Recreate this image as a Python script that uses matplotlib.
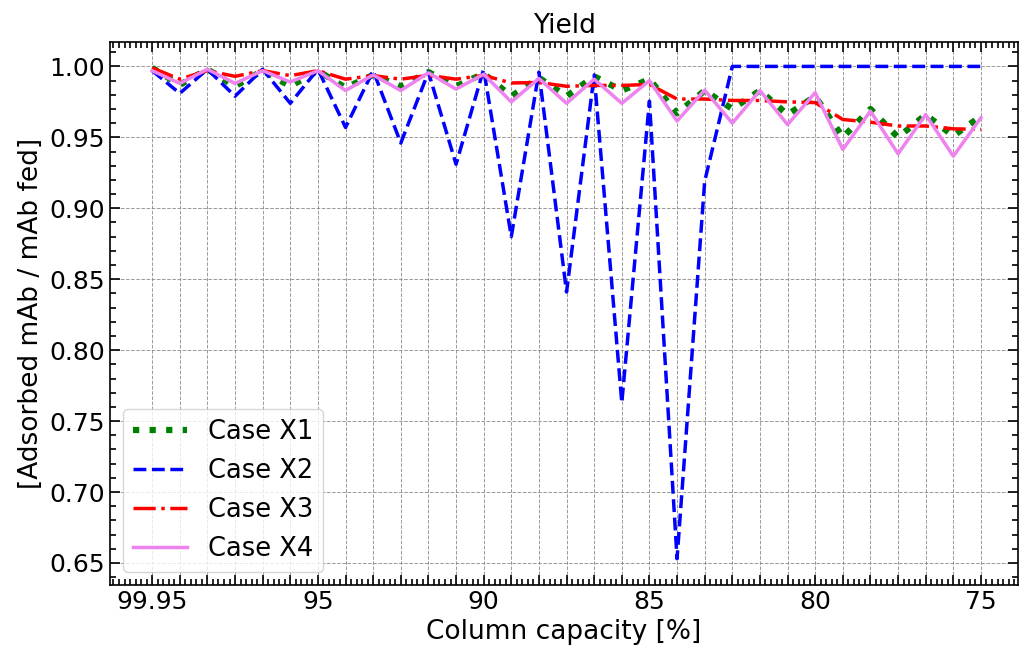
import numpy as np
import matplotlib.pyplot as plt
from matplotlib.ticker import MultipleLocator, AutoMinorLocator

# column capacity tick labels (only every 6th point is labelled)
capacity_labels = ['99.95', '95', '90', '85', '80', '75']
n_points = 31

case_x1 = [0.999, 0.987, 0.998, 0.986, 0.997, 0.986, 0.997, 0.985, 0.994, 0.986,
           0.996, 0.986, 0.995, 0.979, 0.992, 0.979, 0.993, 0.983, 0.991, 0.967,
           0.983, 0.970, 0.983, 0.966, 0.979, 0.950, 0.970, 0.950, 0.966, 0.951,
           0.965]
case_x2 = [0.997, 0.981, 0.998, 0.979, 0.998, 0.974, 0.998, 0.957, 0.997, 0.946,
           0.996, 0.931, 0.998, 0.880, 0.996, 0.841, 0.994, 0.763, 0.9755, 0.653,
           0.919, 1.0, 1.0, 1.0, 1.0, 1.0, 1.0, 1.0, 1.0, 1.0,
           1.0]
case_x3 = [0.999, 0.991, 0.997, 0.993, 0.997, 0.9935, 0.997, 0.991, 0.9935, 0.991,
           0.9937, 0.991, 0.9937, 0.9883, 0.9887, 0.986, 0.9866, 0.9866, 0.9873, 0.977,
           0.977, 0.976, 0.976, 0.975, 0.9745, 0.9626, 0.9607, 0.958, 0.958, 0.956,
           0.9556]
case_x4 = [0.997, 0.988, 0.998, 0.988, 0.997, 0.989, 0.997, 0.983, 0.994, 0.983,
           0.9955, 0.984, 0.9945, 0.975, 0.9915, 0.974, 0.991, 0.974, 0.990, 0.9615,
           0.9833, 0.960, 0.983, 0.959, 0.9815, 0.9415, 0.9685, 0.9384, 0.966, 0.9367,
           0.9638]

x = np.arange(n_points)

fig = plt.figure(figsize=(10.2, 6.52), dpi=100)
ax = fig.add_axes([0.108, 0.103, 0.89, 0.833])

ax.plot(x, case_x1, color='green', linestyle=':', linewidth=4.5, label='Case X1')
ax.plot(x, case_x2, color='blue', linestyle='--', linewidth=2.5, label='Case X2')
ax.plot(x, case_x3, color='red', linestyle='-.', linewidth=2.5, label='Case X3')
ax.plot(x, case_x4, color='violet', linestyle='-', linewidth=2.5, label='Case X4')

ax.set_xlim(-1.52, 31.34)
ax.set_ylim(0.6346, 1.0174)

ax.set_xticks(x)
tick_text = ['' for _ in x]
for i, lab in enumerate(capacity_labels):
    tick_text[i * 6] = lab
ax.set_xticklabels(tick_text)
ax.xaxis.set_minor_locator(AutoMinorLocator(5))
ax.yaxis.set_major_locator(MultipleLocator(0.05))
ax.yaxis.set_minor_locator(MultipleLocator(0.01))
ax.yaxis.set_major_formatter(plt.FormatStrFormatter('%.2f'))

ax.tick_params(which='both', direction='in', top=True, right=True, labelsize=18, width=1.2)
ax.tick_params(which='major', length=7)
ax.tick_params(which='minor', length=4)
for s in ax.spines.values():
    s.set_linewidth(1.2)

ax.grid(True, which='major', linestyle='--', color='gray', linewidth=0.7, alpha=0.8)

ax.set_title('Yield', fontsize=19)
ax.set_xlabel('Column capacity [%]', fontsize=19)
ax.set_ylabel('[Adsorbed mAb / mAb fed]', fontsize=19)
ax.legend(loc='lower left', fontsize=18.5, handlelength=2.1)

plt.savefig('out.png')
